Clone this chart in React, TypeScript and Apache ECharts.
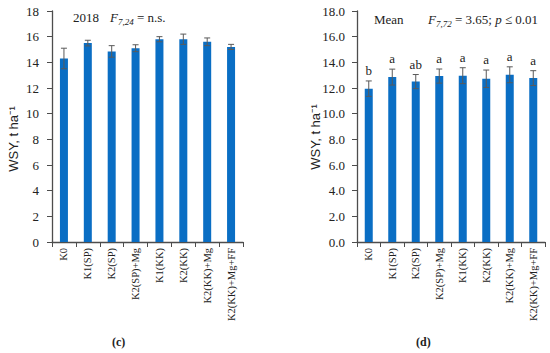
import React, { useEffect, useRef } from "react";
import * as echarts from "echarts";

const categories = ["K0", "K1(SP)", "K2(SP)", "K2(SP)+Mg", "K1(KK)", "K2(KK)", "K2(KK)+Mg", "K2(KK)+Mg+FF"];
const values2018 = [14.3, 15.5, 14.85, 15.1, 15.8, 15.8, 15.6, 15.2];
const errors2018 = [0.8, 0.22, 0.45, 0.27, 0.2, 0.4, 0.3, 0.2];
const valuesMean = [11.95, 12.85, 12.5, 12.93, 12.96, 12.72, 13.03, 12.77];
const errorsMean = [0.6, 0.62, 0.55, 0.55, 0.62, 0.68, 0.62, 0.58];
const lettersMean = ["b", "a", "ab", "a", "a", "a", "a", "a"];
const yTicks = [0, 2, 4, 6, 8, 10, 12, 14, 16, 18];

const BLUE = "#0A6EC4";
const AXIS = "#4d4d4d";
const ERR = "#5a5a5a";
const SERIF = "'Liberation Serif', 'DejaVu Serif', serif";
const SANS = "'Liberation Sans', 'Noto Sans', sans-serif";

export default function App() {
  const ref = useRef<HTMLDivElement>(null);
  useEffect(() => {
    if (!ref.current) return;
    const chart = echarts.init(ref.current, null, { renderer: "svg" });
    const grids = [
      { left: 52, top: 11, width: 191, height: 231 },
      { left: 357, top: 11, width: 188, height: 231 },
    ];
    const mkX = (gi: number) => ({
      type: "category",
      gridIndex: gi,
      data: categories,
      axisLine: { lineStyle: { color: AXIS, width: 1.3 } },
      axisTick: { show: true, alignWithLabel: false, length: 5, lineStyle: { color: AXIS } },
      axisLabel: { rotate: 90, fontFamily: SERIF, fontSize: 10.5, color: "#222", margin: 6 },
    });
    const mkY = (gi: number, dec: boolean) => ({
      type: "value",
      gridIndex: gi,
      min: yTicks[0],
      max: yTicks[yTicks.length - 1],
      interval: 2,
      axisLine: { show: true, lineStyle: { color: AXIS, width: 1.3 } },
      axisTick: { show: true, inside: false, length: 5, lineStyle: { color: AXIS } },
      splitLine: { show: false },
      axisLabel: {
        fontFamily: SERIF,
        fontSize: 13,
        color: "#222",
        margin: dec ? 12 : 13,
        formatter: (v: number) => (dec ? v.toFixed(1) : String(v)),
      },
    });
    const errSeries = (gi: number, vals: number[], errs: number[], letters?: string[]) => ({
      type: "custom",
      xAxisIndex: gi,
      yAxisIndex: gi,
      z: 5,
      data: vals.map((v, i) => [i, v, errs[i]]),
      renderItem: (params: any, api: any) => {
        const x = api.value(0);
        const v = api.value(1);
        const e = api.value(2);
        const hi = api.coord([x, v + e]);
        const lo = api.coord([x, v - e]);
        const hw = 3;
        const children: any[] = [
          { type: "line", shape: { x1: hi[0], y1: hi[1], x2: lo[0], y2: lo[1] }, style: { stroke: ERR, lineWidth: 1 } },
          { type: "line", shape: { x1: hi[0] - hw, y1: hi[1], x2: hi[0] + hw, y2: hi[1] }, style: { stroke: ERR, lineWidth: 1 } },
          { type: "line", shape: { x1: lo[0] - hw, y1: lo[1], x2: lo[0] + hw, y2: lo[1] }, style: { stroke: ERR, lineWidth: 1 } },
        ];
        if (letters) {
          children.push({
            type: "text",
            x: hi[0],
            y: hi[1] - 4,
            style: {
              text: letters[params.dataIndex],
              fontFamily: SERIF,
              fontSize: 13,
              fill: "#222",
              align: "center",
              verticalAlign: "bottom",
            },
          });
        }
        return { type: "group", children };
      },
    });
    const rich = {
      i: { fontFamily: SERIF, fontSize: 13, fontStyle: "italic", fill: "#222" },
      s: { fontFamily: SERIF, fontSize: 9, fontStyle: "italic", fill: "#222", verticalAlign: "bottom", padding: [8, 0, 0, 0] },
      n: { fontFamily: SERIF, fontSize: 13, fill: "#222" },
    };
    const yTitle = (x: number, y: number) => ({
      type: "text",
      x,
      y,
      rotation: Math.PI / 2,
      style: {
        text: "WSY, t ha⁻¹",
        fontFamily: SANS,
        fontSize: 13,
        fill: "#222",
        align: "center",
        verticalAlign: "middle",
      },
    });
    chart.setOption({
      animation: false,
      grid: grids,
      xAxis: [mkX(0), mkX(1)],
      yAxis: [mkY(0, false), mkY(1, true)],
      series: [
        { type: "bar", xAxisIndex: 0, yAxisIndex: 0, data: values2018, barWidth: 8, itemStyle: { color: BLUE } },
        errSeries(0, values2018, errors2018),
        { type: "bar", xAxisIndex: 1, yAxisIndex: 1, data: valuesMean, barWidth: 8, itemStyle: { color: BLUE } },
        errSeries(1, valuesMean, errorsMean, lettersMean),
      ],
      graphic: [
        yTitle(13, 139),
        yTitle(315, 137),
        { type: "text", left: 73, top: 11, style: { text: "2018", fontFamily: SERIF, fontSize: 13, fill: "#222" } },
        {
          type: "text",
          left: 110,
          top: 11,
          style: { text: "{i|F}{s|7,24}{n| = n.s.}", rich, fontFamily: SERIF, fontSize: 13 },
        },
        { type: "text", left: 374, top: 13, style: { text: "Mean", fontFamily: SERIF, fontSize: 13, fill: "#222" } },
        {
          type: "text",
          left: 428,
          top: 13,
          style: { text: "{i|F}{s|7,72}{n| = 3.65; }{i|p}{n| ≤ 0.01}", rich, fontFamily: SERIF, fontSize: 13 },
        },
        { type: "text", left: 112, top: 336, style: { text: "(c)", fontFamily: SERIF, fontSize: 12, fontWeight: "bold", fill: "#222" } },
        { type: "text", left: 416, top: 336, style: { text: "(d)", fontFamily: SERIF, fontSize: 12, fontWeight: "bold", fill: "#222" } },
      ],
    });
    return () => chart.dispose();
  }, []);
  return <div ref={ref} style={{ width: 550, height: 353, position: "absolute", left: 0, top: 0, background: "#fff" }} />;
}
